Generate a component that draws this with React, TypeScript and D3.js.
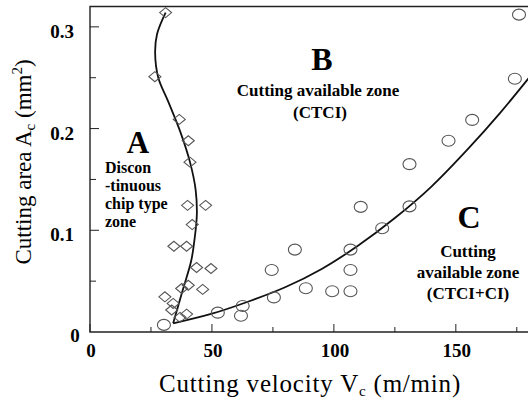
import React from 'react';
import * as d3 from 'd3';

// zone A data (diamonds): cutting velocity (m/min), cutting area (mm^2)
const diamondV = [31, 26.6, 36.6, 40.3, 41, 40, 47.4, 41.9, 34.4, 39.6, 43.7, 49.6, 40.3, 37.6, 46.2, 30.7, 34.1, 33.5, 39.6, 36.9];
const diamondA = [0.314, 0.251, 0.209, 0.188, 0.167, 0.1245, 0.1245, 0.1056, 0.0843, 0.0843, 0.0634, 0.0624, 0.046, 0.0428, 0.0419, 0.0346, 0.0281, 0.0216, 0.0176, 0.0144];

// zone C data (circles)
const circleV = [30.3, 52.4, 62.6, 61.9, 75.4, 74.5, 84, 88.5, 99.3, 106.8, 106.8, 106.8, 111, 119.8, 131, 131, 147, 156.7, 174.2, 175.9];
const circleA = [0.007, 0.019, 0.0255, 0.016, 0.034, 0.061, 0.081, 0.043, 0.04, 0.04, 0.061, 0.081, 0.123, 0.102, 0.1235, 0.165, 0.188, 0.2085, 0.249, 0.312];

// boundary A | B
const boundAV = [31, 27.5, 26.7, 28, 32, 37, 41, 43.3, 43.8, 42.8, 41.5, 38, 34.1];
const boundAA = [0.314, 0.293, 0.275, 0.25, 0.227, 0.197, 0.167, 0.14, 0.115, 0.09, 0.07, 0.041, 0.0085];

// boundary B | C
const boundCV = [34.1, 50, 65, 80, 95, 110, 125, 140, 155, 168, 180];
const boundCA = [0.0085, 0.018, 0.03, 0.044, 0.062, 0.085, 0.112, 0.143, 0.18, 0.215, 0.25];

const xMajor = [0, 50, 100, 150];
const xMinor = [25, 75, 125, 175];
const yMajor = [0.1, 0.2, 0.3];
const yMinor = [0.05, 0.15, 0.25];

const W = 528;
const H = 403;
const left = 90, top = 6.5, right = 529, bottom = 332;
const serif = '"Liberation Serif", "Times New Roman", serif';

export default function App() {
  const x = d3.scaleLinear().domain([0, 180]).range([left, right]);
  const y = d3.scaleLinear().domain([0, 0.32]).range([bottom, top]);

  const lineA = d3.line<number>()
    .x(i => x(boundAV[i]))
    .y(i => y(boundAA[i]))
    .curve(d3.curveCatmullRom.alpha(0.5));
  const lineC = d3.line<number>()
    .x(i => x(boundCV[i]))
    .y(i => y(boundCA[i]))
    .curve(d3.curveCatmullRom.alpha(0.5));

  const diamond = (cx: number, cy: number) =>
    `M${cx - 6},${cy}L${cx},${cy - 5}L${cx + 6},${cy}L${cx},${cy + 5}Z`;

  const bold = { fontFamily: serif, fontWeight: 700 } as const;

  return (
    <svg width={W} height={H} style={{ position: 'absolute', left: 0, top: 0, background: '#fff' }}>
      <defs>
        <clipPath id="plot">
          <rect x={left} y={top} width={right - left} height={bottom - top} />
        </clipPath>
      </defs>

      {/* frame */}
      <path d={`M${right + 5},${top}H${left}V${bottom}H${right + 5}`} fill="none" stroke="#222" strokeWidth={1.4} />

      {/* ticks, pointing inward */}
      {xMajor.map(t => (
        <line key={'xM' + t} x1={x(t)} x2={x(t)} y1={bottom} y2={bottom - 8} stroke="#222" strokeWidth={1} />
      ))}
      {xMinor.map(t => (
        <line key={'xm' + t} x1={x(t)} x2={x(t)} y1={bottom} y2={bottom - 5} stroke="#222" strokeWidth={1} />
      ))}
      {yMajor.map(t => (
        <line key={'yM' + t} x1={left} x2={left + 9} y1={y(t)} y2={y(t)} stroke="#222" strokeWidth={1} />
      ))}
      {yMinor.map(t => (
        <line key={'ym' + t} x1={left} x2={left + 6} y1={y(t)} y2={y(t)} stroke="#222" strokeWidth={1} />
      ))}

      {/* tick labels */}
      {xMajor.map(t => (
        <text key={'xl' + t} x={x(t) + 1} y={357} textAnchor="middle" fontSize={19} {...bold}>{t}</text>
      ))}
      {yMajor.map(t => (
        <text key={'yl' + t} x={74} y={y(t) + 11} textAnchor="end" fontSize={19} {...bold}>{t.toFixed(1)}</text>
      ))}
      <text x={75} y={342} textAnchor="middle" fontSize={19} {...bold}>0</text>

      {/* axis titles */}
      <text x={310} y={392} textAnchor="middle" fontSize={25} letterSpacing={0.8} fontFamily={serif}>
        Cutting velocity V<tspan fontSize={15} dy={4}>c</tspan><tspan dy={-4}> (m/min)</tspan>
      </text>
      <text transform="translate(31,162) rotate(-90)" textAnchor="middle" fontSize={23} fontFamily={serif}>
        Cutting area A<tspan fontSize={15} dy={4}>c</tspan><tspan dy={-4}> (mm</tspan><tspan fontSize={15} dy={-9}>2</tspan><tspan dy={9}>)</tspan>
      </text>

      {/* curves */}
      <g clipPath="url(#plot)" fill="none" stroke="#111" strokeWidth={1.8}>
        <path d={lineA(d3.range(boundAV.length)) || ''} />
        <path d={lineC(d3.range(boundCV.length)) || ''} />
      </g>

      {/* markers */}
      <g fill="none" stroke="#555" strokeWidth={1.1}>
        {diamondV.map((v, i) => (
          <path key={'d' + i} d={diamond(x(v), y(diamondA[i]))} />
        ))}
        {circleV.map((v, i) => (
          <ellipse key={'c' + i} cx={x(v)} cy={y(circleA[i])} rx={6.5} ry={5.5} />
        ))}
      </g>

      {/* zone annotations */}
      <text x={322} y={70} textAnchor="middle" fontSize={32} {...bold}>B</text>
      <text x={318} y={96} textAnchor="middle" fontSize={17} {...bold}>Cutting available zone</text>
      <text x={320} y={118} textAnchor="middle" fontSize={17} {...bold}>(CTCI)</text>

      <text x={138} y={153} textAnchor="middle" fontSize={31} {...bold}>A</text>
      {['Discon', '-tinuous', 'chip type', 'zone'].map((s, i) => (
        <text key={s} x={105} y={173 + i * 18} fontSize={16} {...bold}>{s}</text>
      ))}

      <text x={469} y={228} textAnchor="middle" fontSize={32} {...bold}>C</text>
      <text x={468} y={257} textAnchor="middle" fontSize={17} {...bold}>Cutting</text>
      <text x={468} y={278} textAnchor="middle" fontSize={17} {...bold}>available zone</text>
      <text x={468} y={299} textAnchor="middle" fontSize={17} {...bold}>(CTCI+CI)</text>
    </svg>
  );
}
